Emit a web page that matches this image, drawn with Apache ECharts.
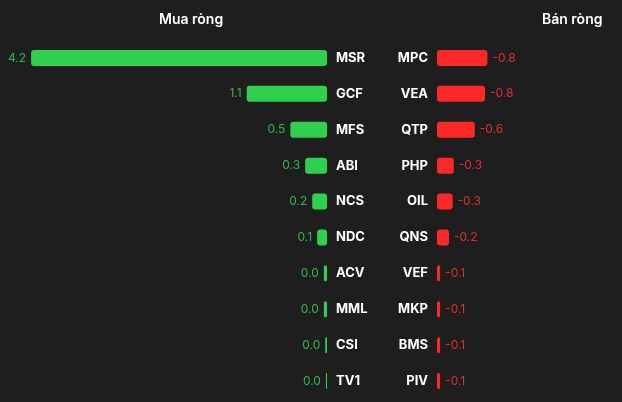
<!DOCTYPE html>
<html>
<head>
<meta charset="utf-8">
<script src="https://cdn.jsdelivr.net/npm/echarts@6/dist/echarts.min.js"></script>
<style>
html,body{margin:0;padding:0;background:#1e1e1e;}
#c{width:622px;height:402px;}
</style>
</head>
<body>
<div id="c"></div>
<script>
const buyCats = ['MSR','GCF','MFS','ABI','NCS','NDC','ACV','MML','CSI','TV1'];
const buyVals = [4.2, 1.14, 0.52, 0.31, 0.21, 0.14, 0.045, 0.045, 0.025, 0.015];
const sellCats = ['MPC','VEA','QTP','PHP','OIL','QNS','VEF','MKP','BMS','PIV'];
const sellVals = [-0.84, -0.8, -0.63, -0.28, -0.26, -0.2, -0.052, -0.052, -0.052, -0.052];

const FONT = 'Inter, "Noto Sans", sans-serif';
const chart = echarts.init(document.getElementById('c'));
chart.setOption({
  backgroundColor: '#1e1e1e',
  animation: false,
  title: [
    {text: 'Mua ròng', left: 154, top: 8,
     textStyle: {color: '#ffffff', fontSize: 14, fontWeight: 600, fontFamily: FONT}},
    {text: 'Bán ròng', left: 537, top: 8,
     textStyle: {color: '#ffffff', fontSize: 14, fontWeight: 600, fontFamily: FONT}}
  ],
  grid: [
    {left: 17, width: 310, top: 40, height: 359},
    {left: 437, width: 90, top: 40, height: 359}
  ],
  xAxis: [
    {type: 'value', gridIndex: 0, min: -4.4, max: 0, show: false},
    {type: 'value', gridIndex: 1, min: 0, max: 1.5, show: false}
  ],
  yAxis: [
    {type: 'category', gridIndex: 0, data: buyCats, inverse: true, position: 'right',
     axisLine: {show: false}, axisTick: {show: false}, splitLine: {show: false},
     axisLabel: {color: '#ffffff', fontSize: 13, fontWeight: 700, fontFamily: FONT, margin: 9, align: 'left'}},
    {type: 'category', gridIndex: 1, data: sellCats, inverse: true, position: 'left',
     axisLine: {show: false}, axisTick: {show: false}, splitLine: {show: false},
     axisLabel: {color: '#ffffff', fontSize: 13, fontWeight: 700, fontFamily: FONT, margin: 9, align: 'right'}}
  ],
  series: [
    {type: 'bar', xAxisIndex: 0, yAxisIndex: 0, barWidth: 16,
     data: buyVals.map(v => -v),
     itemStyle: {color: '#30d04f', borderRadius: 3},
     label: {show: true, position: 'left', distance: 5, color: '#2fb84a', fontSize: 12, fontFamily: FONT,
       formatter: p => buyVals[p.dataIndex].toFixed(1)}},
    {type: 'bar', xAxisIndex: 1, yAxisIndex: 1, barWidth: 16,
     data: sellVals.map(v => -v),
     itemStyle: {color: '#ff2828', borderRadius: 3},
     label: {show: true, position: 'right', distance: 5, color: '#e0302f', fontSize: 12, fontFamily: FONT,
       formatter: p => sellVals[p.dataIndex].toFixed(1)}}
  ]
});
</script>
</body>
</html>
